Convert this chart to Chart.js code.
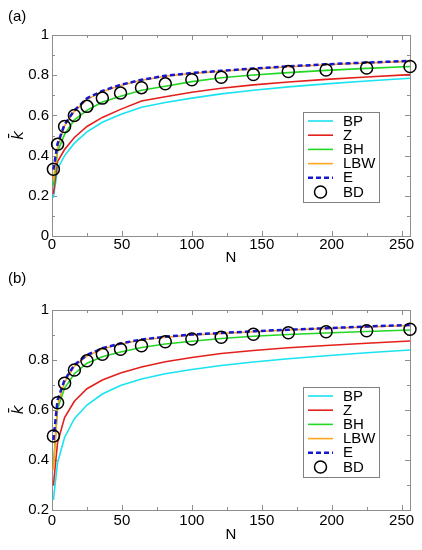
<!DOCTYPE html>
<html>
<head>
<meta charset="utf-8">
<script src="https://cdn.jsdelivr.net/npm/chart.js@4.4.1/dist/chart.umd.min.js"></script>
<style>
  body { margin: 0; background: #fff; }
  canvas { position: absolute; left: 0; }
</style>
</head>
<body>
<canvas id="chartA" width="422" height="270" style="top:0px"></canvas>
<canvas id="chartB" width="422" height="285" style="top:265px"></canvas>
<script>
// system sizes N (x values) shared by both panels
const nValues = [1, 4, 9, 16, 25, 36, 49, 64, 81, 100, 121, 144, 169, 196, 225, 256];
const seriesNames = ['BP', 'Z', 'BH', 'LBW', 'E', 'BD'];

// panel (a)
const bpA  = [0.19, 0.335, 0.40, 0.462, 0.518, 0.566, 0.605, 0.641, 0.664, 0.686, 0.707, 0.725, 0.742, 0.757, 0.771, 0.785];
const zA   = [0.21, 0.37, 0.43, 0.49, 0.545, 0.59, 0.63, 0.672, 0.693, 0.715, 0.735, 0.752, 0.766, 0.779, 0.791, 0.803];
const bhA  = [0.25, 0.42, 0.505, 0.578, 0.625, 0.667, 0.695, 0.725, 0.745, 0.768, 0.787, 0.801, 0.813, 0.824, 0.834, 0.843];
const lbwA = [0.28, 0.44, 0.548, 0.62, 0.68, 0.718, 0.749, 0.775, 0.795, 0.809, 0.82, 0.831, 0.842, 0.852, 0.861, 0.869];
const eA   = [0.33, 0.46, 0.555, 0.625, 0.685, 0.722, 0.752, 0.777, 0.797, 0.811, 0.822, 0.833, 0.844, 0.854, 0.863, 0.871];
const bdA  = [0.332, 0.456, 0.545, 0.60, 0.645, 0.686, 0.711, 0.738, 0.757, 0.777, 0.79, 0.803, 0.818, 0.826, 0.836, 0.843];

// panel (b)
const bpB  = [0.24, 0.39, 0.49, 0.565, 0.62, 0.664, 0.698, 0.724, 0.745, 0.762, 0.778, 0.792, 0.805, 0.817, 0.829, 0.84];
const zB   = [0.30, 0.47, 0.57, 0.635, 0.685, 0.72, 0.748, 0.772, 0.793, 0.81, 0.826, 0.838, 0.849, 0.858, 0.867, 0.876];
const bhB  = [0.38, 0.605, 0.688, 0.745, 0.787, 0.813, 0.832, 0.85, 0.864, 0.875, 0.886, 0.895, 0.902, 0.908, 0.914, 0.92];
const lbwB = [0.36, 0.62, 0.712, 0.775, 0.816, 0.844, 0.864, 0.88, 0.891, 0.9, 0.906, 0.913, 0.92, 0.926, 0.932, 0.938];
const eB   = [0.48, 0.64, 0.72, 0.78, 0.82, 0.847, 0.866, 0.882, 0.893, 0.902, 0.908, 0.915, 0.921, 0.927, 0.934, 0.94];
const bdB  = [0.496, 0.629, 0.707, 0.76, 0.797, 0.823, 0.843, 0.857, 0.873, 0.884, 0.891, 0.903, 0.909, 0.913, 0.917, 0.923];

// axis ticks (empty label = minor tick)
const xTicks  = [0, 25, 50, 75, 100, 125, 150, 175, 200, 225, 250];
const xLabels = ['0', '', '50', '', '100', '', '150', '', '200', '', '250'];
const yTicksA  = [0, 0.1, 0.2, 0.3, 0.4, 0.5, 0.6, 0.7, 0.8, 0.9, 1];
const yLabelsA = ['0', '', '0.2', '', '0.4', '', '0.6', '', '0.8', '', '1'];
const yTicksB  = [0.2, 0.3, 0.4, 0.5, 0.6, 0.7, 0.8, 0.9, 1];
const yLabelsB = ['0.2', '', '0.4', '', '0.6', '', '0.8', '', '1'];

const FONT = '"Liberation Sans", Arial, sans-serif';
const colors = { BP: '#19e3f0', Z: '#e3201c', BH: '#22d822', LBW: '#ffa51f', E: '#1717d2', BD: '#000000' };

// frame with inward ticks on all four sides
const frameTicks = {
    id: 'frameTicks',
    beforeDatasetsDraw(chart) {
        const { ctx, chartArea: a, scales: { x, y } } = chart;
        ctx.save();
        ctx.strokeStyle = '#8e8e8e';
        ctx.lineWidth = 1;
        ctx.strokeRect(Math.round(a.left) + 0.5, Math.round(a.top) + 0.5,
            Math.round(a.right - a.left), Math.round(a.bottom - a.top));
        ctx.beginPath();
        x.ticks.forEach(t => {
            const px = Math.round(x.getPixelForValue(t.value)) + 0.5;
            const len = t.label ? 5 : 3;
            ctx.moveTo(px, a.bottom); ctx.lineTo(px, a.bottom - len);
            ctx.moveTo(px, a.top); ctx.lineTo(px, a.top + len);
        });
        y.ticks.forEach(t => {
            const py = Math.round(y.getPixelForValue(t.value)) + 0.5;
            const len = t.label ? 5 : 3;
            ctx.moveTo(a.left, py); ctx.lineTo(a.left + len, py);
            ctx.moveTo(a.right, py); ctx.lineTo(a.right - len, py);
        });
        ctx.stroke();
        ctx.restore();
    }
};

// boxed legend inside the plot + panel tag
const boxLegend = {
    id: 'boxLegend',
    afterDraw(chart, args, opts) {
        const { ctx } = chart;
        const top = chart.chartArea.top + 77;
        const left = 303, right = 379, rowH = 14.2;
        ctx.save();
        ctx.fillStyle = '#fff';
        ctx.fillRect(left, top, right - left, 90);
        ctx.strokeStyle = '#808080';
        ctx.lineWidth = 1;
        ctx.strokeRect(left + 0.5, top + 0.5, right - left, 90);
        chart.data.datasets.forEach((ds, i) => {
            const yy = top + 9 + i * rowH;
            if (ds.showLine === false) {
                ctx.beginPath();
                ctx.lineWidth = 1.5;
                ctx.strokeStyle = '#000';
                ctx.arc(320.5, yy, 6, 0, Math.PI * 2);
                ctx.stroke();
            } else {
                ctx.beginPath();
                ctx.lineWidth = ds.borderWidth;
                ctx.strokeStyle = ds.borderColor;
                ctx.setLineDash(ds.borderDash || []);
                ctx.moveTo(308, yy);
                ctx.lineTo(333, yy);
                ctx.stroke();
                ctx.setLineDash([]);
            }
            ctx.fillStyle = '#000';
            ctx.font = '15px ' + FONT;
            ctx.textBaseline = 'middle';
            ctx.fillText(ds.label, 343, yy + 0.5);
        });
        ctx.font = '15px ' + FONT;
        ctx.fillStyle = '#000';
        ctx.fillText(opts.tag, 8, opts.tagY);
        ctx.restore();
    }
};

function lineSet(name, vals, order) {
    return {
        label: name,
        data: nValues.map((n, i) => ({ x: n, y: vals[i] })),
        showLine: true,
        borderColor: colors[name],
        borderWidth: name === 'E' ? 2.5 : 1.6,
        borderDash: name === 'E' ? [5, 3] : undefined,
        pointRadius: 0,
        tension: 0,
        order: order
    };
}

function makeChart(id, vals, yTicks, yLabels, p) {
    const datasets = [
        lineSet('BP', vals[0], 5),
        lineSet('Z', vals[1], 4),
        lineSet('BH', vals[2], 3),
        lineSet('LBW', vals[3], 2),
        lineSet('E', vals[4], 1),
        {
            label: 'BD',
            data: nValues.map((n, i) => ({ x: n, y: vals[5][i] })),
            showLine: false,
            pointRadius: 6,
            pointHoverRadius: 6,
            pointBorderWidth: 1.5,
            pointBorderColor: '#000',
            pointBackgroundColor: 'rgba(0,0,0,0)',
            borderColor: '#000',
            clip: false,
            order: 0
        }
    ];
    return new Chart(document.getElementById(id), {
        type: 'scatter',
        data: { datasets: datasets },
        options: {
            responsive: false,
            animation: false,
            events: [],
            layout: { padding: { top: p.top, right: 12, left: 0, bottom: 0 } },
            plugins: {
                legend: { display: false },
                tooltip: { enabled: false },
                boxLegend: { tag: p.tag, tagY: p.tagY }
            },
            scales: {
                x: {
                    type: 'linear',
                    min: 0,
                    max: 256,
                    afterBuildTicks: s => { s.ticks = xTicks.map(v => ({ value: v })); },
                    afterFit: s => { s.height = p.xHeight; },
                    grid: { display: false, drawTicks: false },
                    border: { display: false },
                    ticks: {
                        autoSkip: false,
                        maxRotation: 0,
                        padding: p.xPad,
                        color: '#000',
                        font: { family: FONT, size: 15 },
                        callback: (v, i) => xLabels[i]
                    },
                    title: {
                        display: true,
                        text: 'N',
                        color: '#000',
                        font: { family: FONT, size: 15 },
                        padding: { top: 0, bottom: p.nPad }
                    }
                },
                y: {
                    min: yTicks[0],
                    max: 1,
                    afterBuildTicks: s => { s.ticks = yTicks.map(v => ({ value: v })); },
                    afterFit: s => { s.width = 52; },
                    grid: { display: false, drawTicks: false },
                    border: { display: false },
                    ticks: {
                        autoSkip: false,
                        padding: 3,
                        color: '#000',
                        font: { family: FONT, size: 15 },
                        callback: (v, i) => yLabels[i]
                    },
                    title: {
                        display: true,
                        text: 'k\u0304',
                        color: '#000',
                        font: { family: '"DejaVu Sans", sans-serif', size: 15, style: 'italic' },
                        padding: { top: 10, bottom: 0 }
                    }
                }
            }
        },
        plugins: [frameTicks, boxLegend]
    });
}

makeChart('chartA', [bpA, zA, bhA, lbwA, eA, bdA], yTicksA, yLabelsA,
    { top: 35, xHeight: 34, xPad: 0, nPad: 3, tag: '(a)', tagY: 17 });
makeChart('chartB', [bpB, zB, bhB, lbwB, eB, bdB], yTicksB, yLabelsB,
    { top: 45, xHeight: 40, xPad: 2, nPad: 6, tag: '(b)', tagY: 14 });
</script>
</body>
</html>
